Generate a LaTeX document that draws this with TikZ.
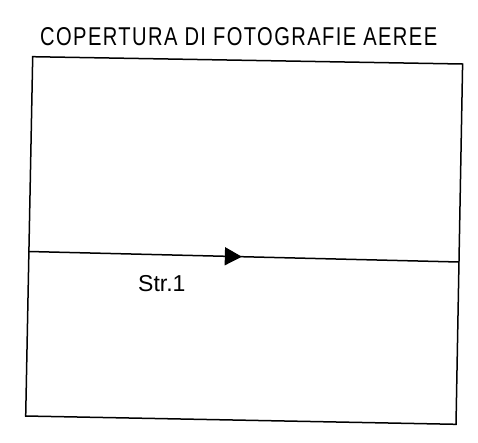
\documentclass[tikz,border=0pt]{standalone}
\usepackage{fontspec}
\setmainfont{Liberation Sans}
\usetikzlibrary{arrows.meta,decorations.markings}
\begin{document}
\begin{tikzpicture}[x=1pt,y=-1pt,
  frame/.style={line width=1.5pt,line join=miter},
  strip/.style={line width=1.5pt,postaction={decorate},
    decoration={markings,mark=at position 0.495 with {\arrow{Triangle[length=17pt,width=18pt]}}}},
  lbl/.style={inner sep=0pt,anchor=base west}]
\useasboundingbox (0,0) rectangle (478,442);
\coordinate (tl) at (32.7,56.7);
\coordinate (tr) at (462.6,64);
\coordinate (br) at (456,424.3);
\coordinate (bl) at (25.7,416);
\coordinate (sl) at (29,251.5);
\coordinate (sr) at (459,262);
\draw[frame] (tl) -- (tr) -- (br) -- (bl) -- cycle;
\draw[strip] (sl) -- (sr);
\node[lbl] (title) at (40,45) {\resizebox{397pt}{18pt}{\fontsize{25}{25}\selectfont\addfontfeature{LetterSpace=7}COPERTURA DI FOTOGRAFIE AEREE}};
\node[lbl] (str) at (138,291.7) {\fontsize{23}{23}\selectfont Str.1};
\end{tikzpicture}
\end{document}
